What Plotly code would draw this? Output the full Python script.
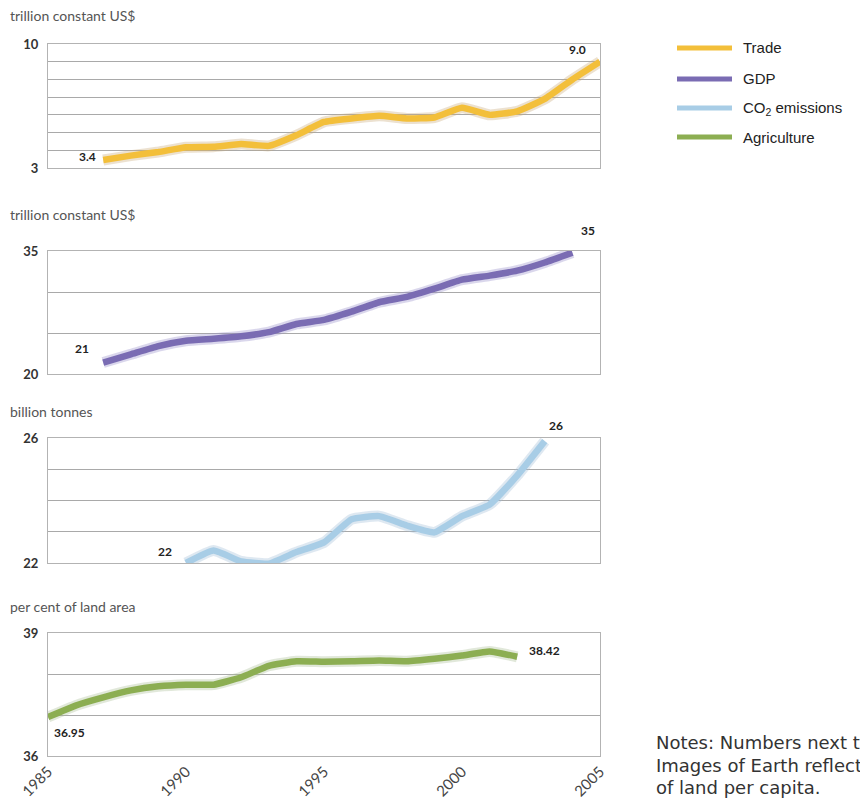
import plotly.graph_objects as go

# ---------------- data ----------------
trade_years = list(range(1987, 2006))
trade_vals = [3.45, 3.7, 3.9, 4.17, 4.2, 4.35, 4.25, 4.85, 5.6, 5.8, 5.95, 5.8, 5.85, 6.4, 6.0, 6.2, 6.9, 8.0, 9.0]

gdp_years = list(range(1987, 2005))
gdp_vals = [21.4, 22.4, 23.4, 24.05, 24.3, 24.6, 25.1, 26.1, 26.6, 27.6, 28.75, 29.4, 30.4, 31.5, 32.0, 32.6, 33.6, 34.8]

co2_years = list(range(1990, 2004))
co2_vals = [22.0, 22.4, 22.05, 21.98, 22.35, 22.66, 23.4, 23.5, 23.2, 22.98, 23.5, 23.87, 24.8, 25.9]

agri_years = list(range(1985, 2003))
agri_vals = [36.95, 37.23, 37.43, 37.6, 37.7, 37.74, 37.74, 37.92, 38.2, 38.31, 38.3, 38.31, 38.33, 38.31, 38.37, 38.45, 38.55, 38.42]

series_names = ["Trade", "GDP", "CO<sub>2</sub> emissions", "Agriculture"]
units = ["trillion constant US$", "trillion constant US$", "billion tonnes", "per cent of land area"]
start_labels = ["3.4", "21", "22", "36.95"]
end_labels = ["9.0", "35", "26", "38.42"]
x_ticks = [1985, 1990, 1995, 2000, 2005]
y_ranges = [(3, 10), (20, 35), (22, 26), (36, 39)]
y_grid = [[4, 5, 6, 7, 8, 9], [25, 30], [23, 24, 25], [37, 38]]
notes_lines = ["Notes: Numbers next to the lines", "Images of Earth reflect the area", "of land per capita."]

colors = ["#f3bf3a", "#7a6cb3", "#a8cde6", "#8cae52"]
shadow = ["rgba(200,170,120,0.35)", "rgba(150,140,200,0.35)", "rgba(160,190,215,0.35)", "rgba(170,190,150,0.35)"]

# page has an 8px body margin, so the figure is offset by 8px
OFF = 8
W, H = 868 - OFF, 801 - OFF

def px_x(p):
    return (p - OFF) / W

def px_y(p):
    return 1 - (p - OFF) / H

x_dom = [px_x(48), px_x(600)]
panels_px = [(44, 168), (251, 374), (438, 563), (633, 756)]
title_px = [16, 214, 411, 606]

all_years = [trade_years, gdp_years, co2_years, agri_years]
all_vals = [trade_vals, gdp_vals, co2_vals, agri_vals]

fig = go.Figure()
FONT = "Lato, 'Open Sans', sans-serif"

for i in range(4):
    xa = "x" if i == 0 else f"x{i+1}"
    ya = "y" if i == 0 else f"y{i+1}"
    fig.add_trace(go.Scatter(x=all_years[i], y=all_vals[i], mode="lines",
                             line=dict(color=shadow[i], width=11, shape="spline", smoothing=0.4),
                             xaxis=xa, yaxis=ya, showlegend=False, hoverinfo="skip"))
    fig.add_trace(go.Scatter(x=all_years[i], y=all_vals[i], mode="lines", name=series_names[i],
                             line=dict(color=colors[i], width=6.5, shape="spline", smoothing=0.4),
                             xaxis=xa, yaxis=ya, showlegend=False))

    top, bot = panels_px[i]
    lo, hi = y_ranges[i]
    xkey = "xaxis" if i == 0 else f"xaxis{i+1}"
    ykey = "yaxis" if i == 0 else f"yaxis{i+1}"
    fig.update_layout(**{
        xkey: dict(domain=x_dom, anchor=ya, range=[1985, 2005], showgrid=False,
                   showline=True, mirror=True, linecolor="#b3b3b3", linewidth=1,
                   zeroline=False, tickvals=x_ticks, automargin=False,
                   showticklabels=(i == 3), tickangle=-45,
                   tickfont=dict(family=FONT, size=15, color="#444")),
        ykey: dict(domain=[px_y(bot), px_y(top)], anchor=xa, range=[lo, hi],
                   tickvals=[lo, hi], showgrid=False, automargin=False,
                   minor=dict(tickvals=y_grid[i], showgrid=True, gridcolor="#a9a9a9", gridwidth=1, ticks=""),
                   showline=True, mirror=True, linecolor="#b3b3b3", linewidth=1,
                   zeroline=False, ticklabelstandoff=6,
                   tickfont=dict(family=FONT, size=13, color="#333", weight="bold")),
    })
    # unit title
    fig.add_annotation(text=units[i], xref="paper", yref="paper", x=px_x(8), y=px_y(title_px[i]),
                       xanchor="left", yanchor="middle", showarrow=False,
                       font=dict(family=FONT, size=14, color="#555"))

# value labels
lab_font = dict(family=FONT, size=12, color="#222", weight="bold")
specs = [
    (("right", -5, 4), ("right", -12, 12)),
    (("right", -12, 14), ("center", 16, 22)),
    (("right", -12, 12), ("center", 11, 16)),
    (("left", 4, -15), ("left", 10, 6)),
]
for i in range(4):
    xa = "x" if i == 0 else f"x{i+1}"
    ya = "y" if i == 0 else f"y{i+1}"
    (sa, sx, sy), (ea, ex, ey) = specs[i]
    fig.add_annotation(text=start_labels[i], x=all_years[i][0], y=all_vals[i][0], xref=xa, yref=ya,
                       xanchor=sa, yanchor="middle", xshift=sx, yshift=sy, showarrow=False, font=lab_font)
    fig.add_annotation(text=end_labels[i], x=all_years[i][-1], y=all_vals[i][-1], xref=xa, yref=ya,
                       xanchor=ea, yanchor="middle", xshift=ex, yshift=ey, showarrow=False, font=lab_font)

# legend (drawn manually to match the long swatches)
leg_y = [48, 79, 108, 137]
for i in range(4):
    fig.add_shape(type="line", xref="paper", yref="paper", x0=px_x(677), x1=px_x(732),
                  y0=px_y(leg_y[i]), y1=px_y(leg_y[i]), line=dict(color=colors[i], width=5))
    fig.add_annotation(text=series_names[i], xref="paper", yref="paper", x=px_x(741), y=px_y(leg_y[i]),
                       xanchor="left", yanchor="middle", showarrow=False,
                       font=dict(family="'Liberation Sans Narrow', 'Liberation Sans', sans-serif", size=15, color="#222"))

# notes (clipped at the right edge, as in the original)
notes_y = [742, 765, 787]
for line, yy in zip(notes_lines, notes_y):
    fig.add_annotation(text=line, xref="paper", yref="paper", x=px_x(654), y=px_y(yy),
                       xanchor="left", yanchor="middle", align="left", showarrow=False,
                       font=dict(family="'DejaVu Sans', sans-serif", size=18, color="#333"))

fig.update_layout(width=W, height=H, margin=dict(l=0, r=0, t=0, b=0),
                  paper_bgcolor="white", plot_bgcolor="white", showlegend=False,
                  font=dict(family=FONT))

fig.write_html("out.html")
